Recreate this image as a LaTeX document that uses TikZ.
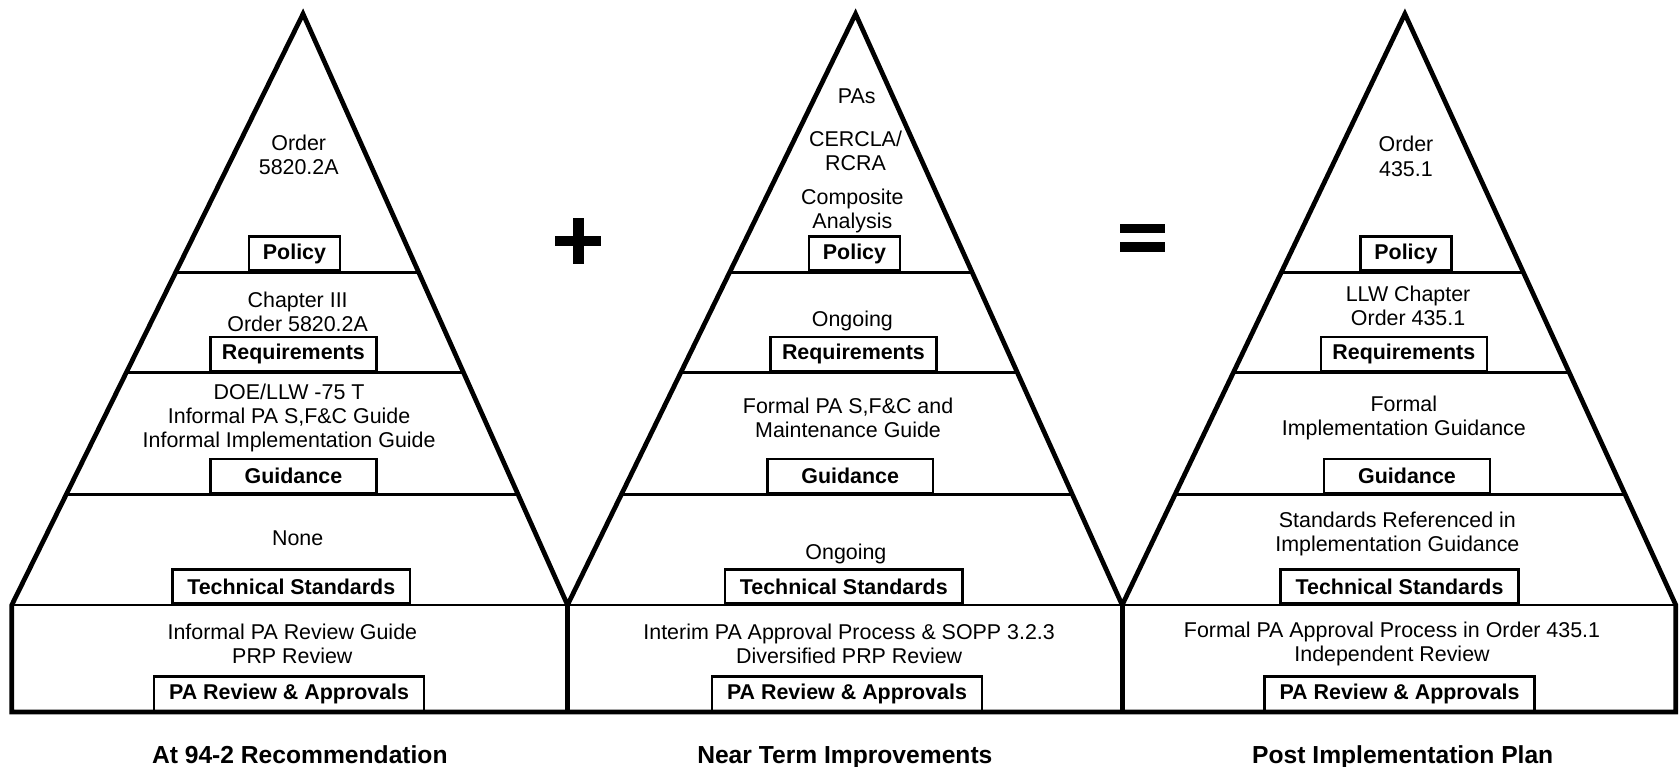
\documentclass[tikz,border=0pt]{standalone}
\usepackage{fontspec}
\setmainfont{Liberation Sans}
\usetikzlibrary{calc}

\tikzset{
  outline/.style={line width=4.4pt, line join=miter},
  divline/.style={line width=2.4pt},
  lvltext/.style={align=center, inner sep=0pt, font=\fontsize{20}{22.5}\selectfont},
  lvlbox/.style={draw, line width=2.4pt, anchor=south, inner sep=0pt,
    minimum height=32pt, font=\fontsize{20}{22.5}\selectfont\bfseries},
  plantitle/.style={anchor=base, inner sep=0pt, font=\fontsize{23}{26}\selectfont\bfseries},
}

\begin{document}
\begin{tikzpicture}[x=1pt, y=1pt]
  \useasboundingbox (0,0) rectangle (1568,716);

  % Corners of the base band
  \coordinate (b0) at (11,151);
  \coordinate (b1) at (530,151);
  \coordinate (b2) at (1048,151);
  \coordinate (b3) at (1565,151);
  \coordinate (f0) at (11,51);
  \coordinate (f3) at (1565,51);

  % Apexes of the three pyramids
  \coordinate (a1) at (283,703);
  \coordinate (a2) at (799,703);
  \coordinate (a3) at (1312,703);

  % Draw outline of pyramids and base band
  \draw[outline] (f0) -- (b0) -- (a1) -- (b1) -- (a2) -- (b2) -- (a3) -- (b3) -- (f3) -- cycle;
  \draw[outline] (b1) -- (b1 |- f0);
  \draw[outline] (b2) -- (b2 |- f0);
  \draw[divline] (b0) -- (b3);

  % Draw level lines inside each pyramid
  \foreach \t in {0.437,0.607,0.813} {
    \draw[divline] ($(a1)!\t!(b0)$) -- ($(a1)!\t!(b1)$);
    \draw[divline] ($(a2)!\t!(b1)$) -- ($(a2)!\t!(b2)$);
    \draw[divline] ($(a3)!\t!(b2)$) -- ($(a3)!\t!(b3)$);
  }

  % Pyramid 1: at 94-2 recommendation
  \node[lvltext] (p1pol) at (279,571) {Order\\5820.2A};
  \node[lvlbox, minimum width=85pt] (p1polbox) at (275,462) {Policy};
  \node[lvltext] (p1req) at (278,425) {Chapter III\\Order 5820.2A};
  \node[lvlbox, minimum width=155pt] (p1reqbox) at (274,368) {Requirements};
  \node[lvltext] (p1gui) at (270,326) {DOE/LLW -75 T\\Informal PA S,F\&C Guide\\Informal Implementation Guide};
  \node[lvlbox, minimum width=155pt] (p1guibox) at (274,254) {Guidance};
  \node[lvltext] (p1std) at (278,213) {None};
  \node[lvlbox, minimum width=222pt] (p1stdbox) at (272,151) {Technical Standards};
  \node[lvltext] (p1rev) at (273,115) {Informal PA Review Guide\\PRP Review};
  \node[lvlbox, minimum width=252pt] (p1revbox) at (270,51) {PA Review \& Approvals};
  \node[plantitle] (p1title) at (280,3) {At 94-2 Recommendation};

  % Draw plus sign
  \fill (518.5,486) rectangle (561.5,496);
  \fill (535,469.5) rectangle (545,512.5);

  % Pyramid 2: near term improvements
  \node[lvltext] (p2pas) at (800,626) {PAs};
  \node[lvltext] (p2rcra) at (799,575) {CERCLA/\\RCRA};
  \node[lvltext] (p2pol) at (796,519) {Composite\\Analysis};
  \node[lvlbox, minimum width=85pt] (p2polbox) at (798,462) {Policy};
  \node[lvltext] (p2req) at (796,416) {Ongoing};
  \node[lvlbox, minimum width=155pt] (p2reqbox) at (797,368) {Requirements};
  \node[lvltext] (p2gui) at (792,326) {Formal PA S,F\&C and\\Maintenance Guide};
  \node[lvlbox, minimum width=155pt] (p2guibox) at (794,254) {Guidance};
  \node[lvltext] (p2std) at (790,199) {Ongoing};
  \node[lvlbox, minimum width=222pt] (p2stdbox) at (788,151) {Technical Standards};
  \node[lvltext] (p2rev) at (793,115) {Interim PA Approval Process \& SOPP 3.2.3\\Diversified PRP Review};
  \node[lvlbox, minimum width=252pt] (p2revbox) at (791,51) {PA Review \& Approvals};
  \node[plantitle] (p2title) at (789,3) {Near Term Improvements};

  % Draw equals sign
  \fill (1046,498) rectangle (1088,507);
  \fill (1046,481) rectangle (1088,490);

  % Pyramid 3: post implementation plan
  \node[lvltext] (p3pol) at (1313,570) {Order\\435.1};
  \node[lvlbox, minimum width=85pt] (p3polbox) at (1313,462) {Policy};
  \node[lvltext] (p3req) at (1315,430) {LLW Chapter\\Order 435.1};
  \node[lvlbox, minimum width=155pt] (p3reqbox) at (1311,368) {Requirements};
  \node[lvltext] (p3gui) at (1311,326) {Formal\\Implementation Guidance};
  \node[lvlbox, minimum width=155pt] (p3guibox) at (1314,254) {Guidance};
  \node[lvltext] (p3std) at (1305,217) {Standards Referenced in\\Implementation Guidance};
  \node[lvlbox, minimum width=222pt] (p3stdbox) at (1307,151) {Technical Standards};
  \node[lvltext] (p3rev) at (1300,115) {Formal PA Approval Process in Order 435.1\\Independent Review};
  \node[lvlbox, minimum width=252pt] (p3revbox) at (1307,51) {PA Review \& Approvals};
  \node[plantitle] (p3title) at (1310,3) {Post Implementation Plan};
\end{tikzpicture}
\end{document}
